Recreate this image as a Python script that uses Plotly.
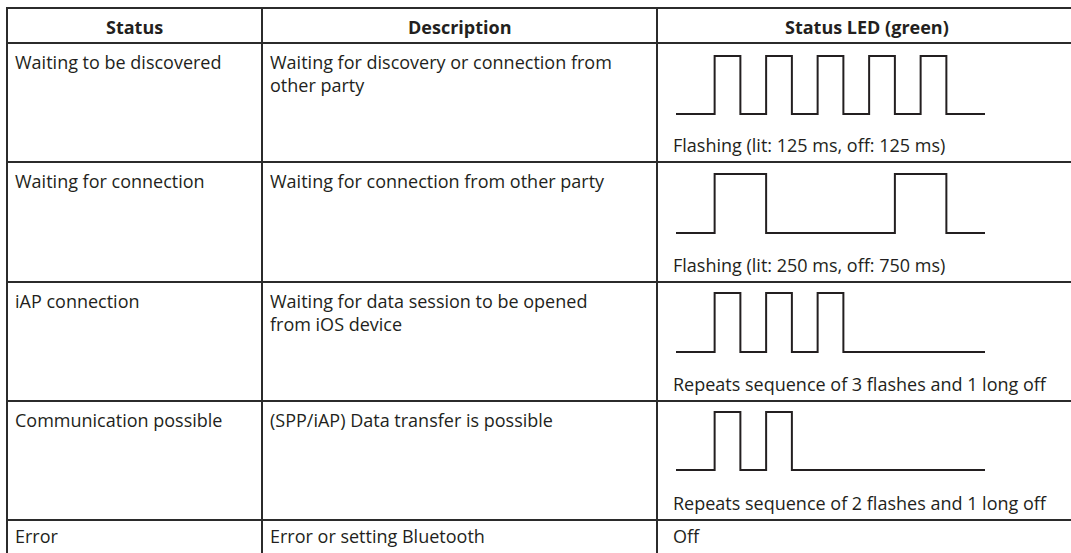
import numpy as np
import plotly.graph_objects as go

W, H = 1071, 553

# ---------------- data ----------------
headers = ["Status", "Description", "Status LED (green)"]
statuses = ["Waiting to be discovered", "Waiting for connection", "iAP connection",
            "Communication possible", "Error"]
descriptions = [
    ["Waiting for discovery or connection from", "other party"],
    ["Waiting for connection from other party"],
    ["Waiting for data session to be opened", "from iOS device"],
    ["(SPP/iAP) Data transfer is possible"],
    ["Error or setting Bluetooth"],
]
led_captions = [
    "Flashing (lit: 125 ms, off: 125 ms)",
    "Flashing (lit: 250 ms, off: 750 ms)",
    "Repeats sequence of 3 flashes and 1 long off",
    "Repeats sequence of 2 flashes and 1 long off",
    "Off",
]
# LED waveforms: level sequence and duration of each segment (drawing units)
discover_levels = [0, 1, 0, 1, 0, 1, 0, 1, 0, 1, 0]
discover_durations = [1.5, 1, 1, 1, 1, 1, 1, 1, 1, 1, 1.5]
connect_levels = [0, 1, 0, 1, 0]
connect_durations = [1.5, 2, 5, 2, 1.5]
iap_levels = [0, 1, 0, 1, 0, 1, 0]
iap_durations = [1.5, 1, 1, 1, 1, 1, 5.5]
comm_levels = [0, 1, 0, 1, 0]
comm_durations = [1.5, 1, 1, 1, 7.5]

waves = [(discover_levels, discover_durations), (connect_levels, connect_durations),
         (iap_levels, iap_durations), (comm_levels, comm_durations)]

# ---------------- layout geometry (pixels) ----------------
col_edges = [7, 262, 657]
row_edges = [8, 43, 162, 282, 401, 520]
wave_x0, wave_x1 = 676, 985
wave_px = [(56, 114), (174, 233), (293, 352), (412, 470)]  # (high, low)

FONT = "Open Sans"
FS = 18
LINE_H = 1.3 * FS
TXT = "#231f20"
LINE = "#2b2b2b"

fig = go.Figure()
fig.update_layout(
    width=W, height=H, margin=dict(l=0, r=0, t=0, b=0),
    paper_bgcolor="white", plot_bgcolor="rgba(0,0,0,0)", showlegend=False,
    xaxis=dict(range=[0, W], domain=[0, 1], visible=False, fixedrange=True),
    yaxis=dict(range=[H, 0], domain=[0, 1], visible=False, fixedrange=True),
    font=dict(family=FONT, size=FS, color=TXT),
)

shapes = []
for y in row_edges:
    shapes.append(dict(type="line", xref="x", yref="y", x0=col_edges[0] - 1, x1=W + 5,
                       y0=y, y1=y, line=dict(color=LINE, width=2)))
for x in col_edges:
    shapes.append(dict(type="line", xref="x", yref="y", x0=x, x1=x,
                       y0=row_edges[0] - 1, y1=H + 5, line=dict(color=LINE, width=2)))
fig.update_layout(shapes=shapes)

ann = []
hdr_x = [(col_edges[0] + col_edges[1]) / 2, (col_edges[1] + col_edges[2]) / 2, 867]
for hx, h in zip(hdr_x, headers):
    ann.append(dict(x=hx, y=(row_edges[0] + row_edges[1]) / 2 + 1, text=f"<b>{h}</b>",
                    xanchor="center", yanchor="middle"))
row_bottoms = row_edges[2:] + [H + 2]
row_tops = row_edges[1:]
for i in range(5):
    top = row_tops[i]
    y0 = top + 19 if i < 4 else 536
    ann.append(dict(x=13, y=y0, text=statuses[i], xanchor="left", yanchor="middle"))
    lines = descriptions[i]
    ann.append(dict(x=268, y=y0 + (len(lines) - 1) * LINE_H / 2, text="<br>".join(lines),
                    xanchor="left", yanchor="middle", align="left"))
    cy = row_bottoms[i] - 17 if i < 4 else y0
    ann.append(dict(x=671, y=cy, text=led_captions[i], xanchor="left", yanchor="middle"))
for a in ann:
    a.update(xref="x", yref="y", showarrow=False)
fig.update_layout(annotations=ann)

# waveforms each on its own axes pair
pad_y, pad_x = 0.1, 0.2
for k, ((levels, durs), (hi, lo)) in enumerate(zip(waves, wave_px)):
    n = k + 2
    t = np.concatenate([[0], np.cumsum(durs)])
    yv = list(levels) + [levels[-1]]
    total = float(t[-1])
    span_px = lo - hi
    top_px = hi - pad_y * span_px
    bot_px = lo + pad_y * span_px
    unit_px = (wave_x1 - wave_x0) / total
    left_px = wave_x0 - pad_x * unit_px
    right_px = wave_x1 + pad_x * unit_px
    fig.update_layout(**{
        f"xaxis{n}": dict(domain=[left_px / W, right_px / W], range=[-pad_x, total + pad_x],
                          visible=False, anchor=f"y{n}", fixedrange=True),
        f"yaxis{n}": dict(domain=[1 - bot_px / H, 1 - top_px / H], range=[-pad_y, 1 + pad_y],
                          visible=False, anchor=f"x{n}", fixedrange=True),
    })
    fig.add_trace(go.Scatter(x=t, y=yv, mode="lines", line=dict(shape="hv", color=TXT, width=2),
                             xaxis=f"x{n}", yaxis=f"y{n}", hoverinfo="skip"))

fig.write_html("out.html", config={"displayModeBar": False, "staticPlot": True},
               post_script="document.body.style.margin='0';document.body.style.overflow='hidden';")
